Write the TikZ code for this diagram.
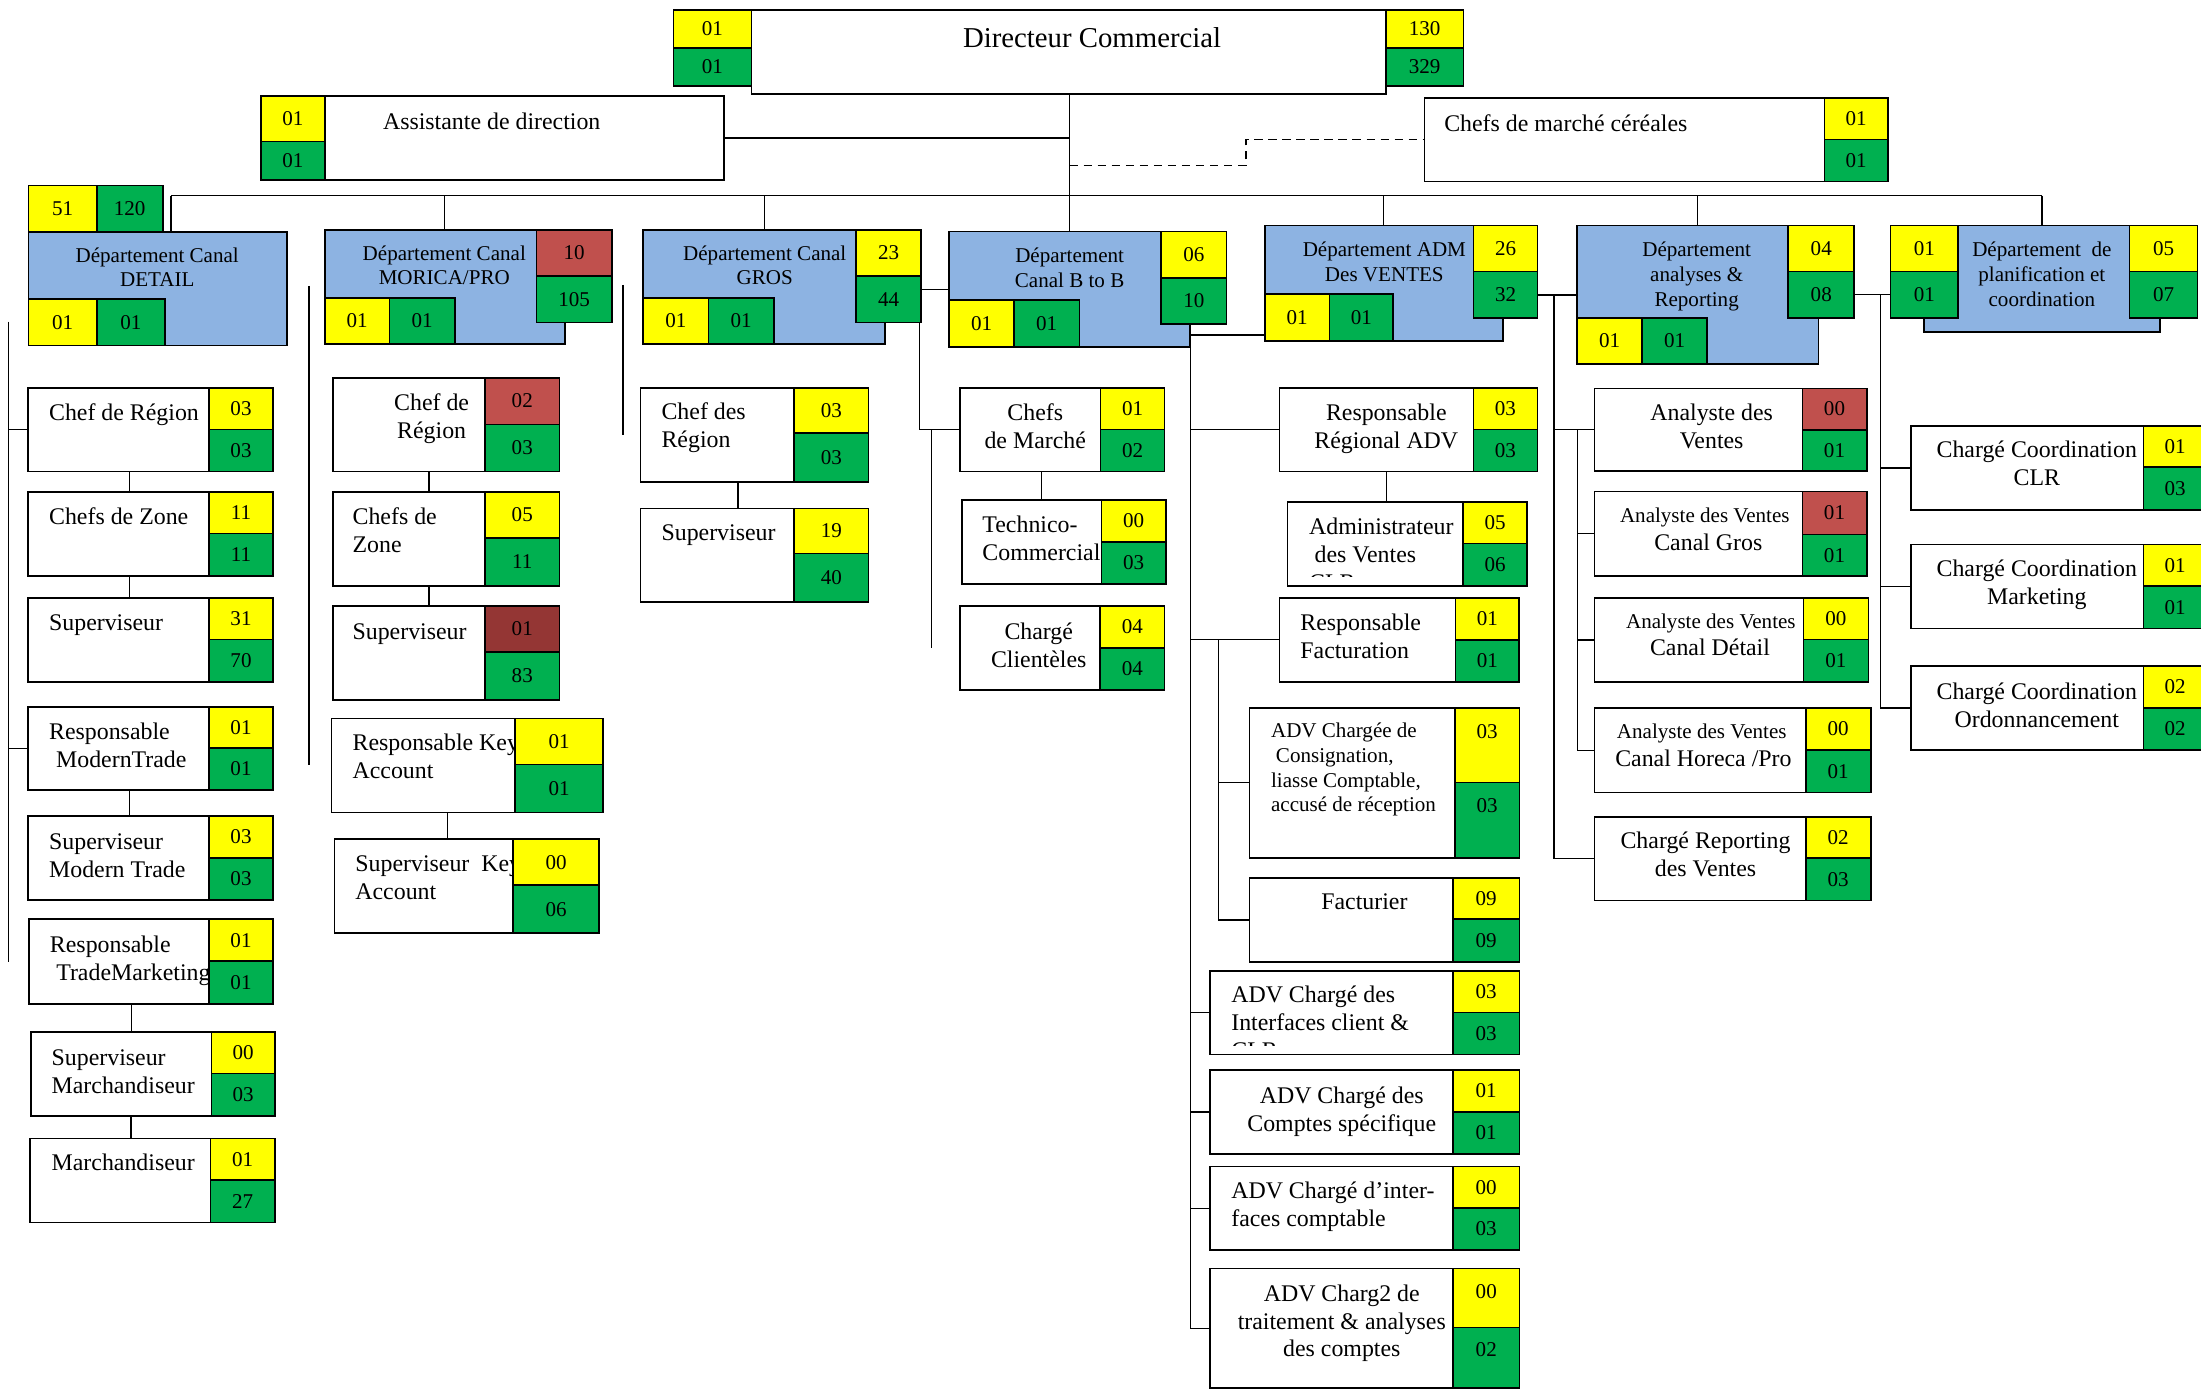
\documentclass[tikz,border=0pt]{standalone}
\usepackage{fontspec}
\setmainfont{Liberation Serif}
\usetikzlibrary{calc}
\pgfdeclarelayer{bg}
\pgfsetlayers{bg,main}
\definecolor{cyel}{HTML}{FFFF00}
\definecolor{cgrn}{HTML}{00B050}
\definecolor{cblue}{HTML}{8DB3E2}
\definecolor{cred}{HTML}{C0504D}
\definecolor{cdark}{HTML}{943634}
\newcommand\fsz[2]{\fontsize{#1}{#2}\selectfont}
% white (or blue) frame given by its corners
\newcommand\boxat[6][]{\node[box,minimum width={(#5-#3)*1pt},minimum height={(#6-#4)*1pt},#1] (#2) at ({(#3+#5)/2},{(#4+#6)/2}) {};}
% coloured count cell given by its corners
\newcommand\numcell[8][]{\node[cellbox,fill=#7,minimum width={(#5-#3)*1pt},minimum height={(#6-#4)*1pt},#1] (#2) at ({(#3+#5)/2},{(#4+#6)/2}) {#8};}
% stacked pair of cells: name, x1, x2, ytop, ymid, ybottom, upper colour, upper text, lower text
\newcommand\cellpair[9]{\numcell{#1y}{#2}{#4}{#3}{#5}{#7}{#8}\numcell{#1g}{#2}{#5}{#3}{#6}{cgrn}{#9}}
% vertical link from one box down to the next, shifted right of the centre
\newcommand\vconn[3]{\draw[link] ($(#1.south)+(#3,0)$) -- ($(#1.south |- #2.north)+(#3,0)$);}
\begin{document}
\begin{tikzpicture}[x=1pt,y=-1pt,
  box/.style={draw=black,line width=1.2pt,fill=white,inner sep=0pt,outer sep=0pt},
  dept/.style={fill=cblue},
  cellbox/.style={draw=black,line width=1.2pt,inner sep=0pt,outer sep=0pt,font=\fsz{15}{18}},
  link/.style={draw=black,line width=0.9pt},
  dlink/.style={link,dash pattern=on 6pt off 4pt},
  t20/.style={font=\fsz{20.5}{24},inner sep=0pt,yshift=10.8pt},
  t17/.style={font=\fsz{17}{20},inner sep=0pt,yshift=8.9pt},
  t17b/.style={font=\fsz{17}{19.4},inner sep=0pt,yshift=8.5pt},
  t15/.style={font=\fsz{15}{17.6},inner sep=0pt,yshift=7.8pt},
  t15c/.style={font=\fsz{15}{17.7},inner sep=0pt,yshift=7.9pt},
  nfont/.style={font=\fsz{15}{18},inner sep=0pt},
  tl/.style={anchor=north west,align=left},
  tc/.style={anchor=north,align=center}]
\begin{pgfonlayer}{bg}
\fill[white] (0,0) rectangle (1568,991);
\end{pgfonlayer}
\useasboundingbox (0,0) rectangle (1568,991);

% ---------------- top level
\boxat{dir}{535.3}{7.1}{987.2}{67.0}
\node[t20,tc] (dir-t) at (778,27.3) {\strut Directeur Commercial};
\cellpair{dira}{479.8}{535.3}{7.1}{34.0}{61.3}{cyel}{01}{01}
\cellpair{dirb}{987.2}{1042.7}{7.1}{34.0}{61.3}{cyel}{130}{329}

\boxat{ast}{231.4}{68.4}{515.8}{128.3}
\node[t17,tc] (ast-t) at (350.3,86.7) {\strut Assistante de direction};
\cellpair{ast}{185.9}{231.4}{68.4}{100.9}{128.3}{cyel}{01}{01}

\boxat{cer}{1014.7}{69.6}{1299.8}{129.4}
\node[t17,tl] (cer-t) at (1028.7,88.4) {\strut Chefs de marché céréales};
\cellpair{cer}{1299.8}{1344.8}{69.6}{99.3}{129.4}{cyel}{01}{01}

% ---------------- departments
\boxat[dept]{det}{20.2}{165.5}{204.3}{246.2}
\numcell{det-y}{20.2}{132.2}{68.9}{165.5}{cyel}{51}
\numcell{det-g}{68.9}{132.2}{115.9}{165.5}{cgrn}{120\hspace{14pt}}
\numcell{det-y2}{20.2}{213.2}{69}{246.2}{cyel}{01}
\numcell{det-g2}{69}{213.2}{117.6}{246.2}{cgrn}{01}
\node[t15,tc] (det-t) at (112,182) {\strut Département Canal\\DETAIL};

\boxat[dept]{mor}{231.4}{163.9}{402.3}{245.1}
\numcell{mor-y}{382.3}{163.9}{435.8}{196.7}{cred}{10}
\numcell{mor-g}{382.3}{196.7}{435.8}{229.7}{cgrn}{105}
\numcell{mor-y2}{231.4}{212.1}{277.4}{245.1}{cyel}{01}
\numcell{mor-g2}{277.4}{212.1}{323.9}{245.1}{cgrn}{01}
\node[t15,tc] (mor-t) at (316.5,180.5) {\strut Département Canal\\MORICA/PRO};

\boxat[dept]{gro}{458.3}{163.9}{630.7}{245.1}
\numcell{gro-y}{609.8}{163.9}{656.2}{196.7}{cyel}{23}
\numcell{gro-g}{609.8}{196.7}{656.2}{229.7}{cgrn}{44}
\numcell{gro-y2}{458.3}{212.1}{504.8}{245.1}{cyel}{01}
\numcell{gro-g2}{504.8}{212.1}{551.3}{245.1}{cgrn}{01}
\node[t15,tc] (gro-t) at (544.8,180.5) {\strut Département Canal\\GROS};

\boxat[dept]{btb}{676.2}{165.0}{847.9}{247.0}
\numcell{btb-y}{827.2}{165.0}{873.7}{197.8}{cyel}{06}
\numcell{btb-g}{827.2}{197.8}{873.7}{231.0}{cgrn}{10}
\numcell{btb-y2}{676.2}{213.7}{722.3}{247.0}{cyel}{01}
\numcell{btb-g2}{722.3}{213.7}{769.0}{247.0}{cgrn}{01}
\node[t15,tc] (btb-t) at (762,182.4) {\strut Département\\Canal B to B};

\boxat[dept]{adm}{901.0}{160.7}{1070.5}{242.7}
\numcell{adm-y}{1049.8}{160.7}{1095.3}{193.5}{cyel}{26}
\numcell{adm-g}{1049.8}{193.5}{1095.3}{226.3}{cgrn}{32}
\numcell{adm-y2}{901}{209.4}{947.1}{242.7}{cyel}{01}
\numcell{adm-g2}{947.1}{209.4}{992.6}{242.7}{cgrn}{01}
\node[t15,tc] (adm-t) at (986.2,178.1) {\strut Département ADM\\Des VENTES};

\boxat[dept]{ana}{1123.4}{160.7}{1295.4}{259.5}
\numcell{ana-y}{1274.0}{160.7}{1320.9}{193.5}{cyel}{04}
\numcell{ana-g}{1274.0}{193.5}{1320.9}{226.3}{cgrn}{08}
\numcell{ana-y2}{1123.4}{226.3}{1169.9}{259.5}{cyel}{01}
\numcell{ana-g2}{1169.9}{226.3}{1216.1}{259.5}{cgrn}{01}
\node[t15,tc] (ana-t) at (1208.7,178.1) {\strut Département\\analyses \&\\Reporting};

\boxat[dept]{pla}{1370.5}{160.7}{1539.0}{236.7}
\numcell{pla-y1}{1346.7}{160.7}{1395.1}{193.5}{cyel}{01}
\numcell{pla-g1}{1346.7}{193.5}{1395.1}{226.3}{cgrn}{01}
\numcell{pla-y}{1517.1}{160.7}{1565.5}{193.5}{cyel}{05}
\numcell{pla-g}{1517.1}{193.5}{1565.5}{226.3}{cgrn}{07}
\node[t15,tc] (pla-t) at (1454.6,178.1) {\strut Département\ \ de\\planification et\\coordination};

% ---------------- Canal DETAIL
\boxat{d1}{20.1}{276.2}{149.1}{336.0}
\node[t17,tl] (d1-t) at (34.8,294.5) {\strut Chef de Région};
\cellpair{d1}{149.1}{194.3}{276.2}{305.9}{336.0}{cyel}{03}{03}
\boxat{d2}{20.1}{350.5}{149.1}{410.4}
\node[t17,tl] (d2-t) at (34.8,368.1) {\strut Chefs de Zone};
\cellpair{d2}{149.1}{194.3}{350.5}{380.0}{410.4}{cyel}{11}{11}
\boxat{d3}{20.1}{425.8}{149.1}{485.7}
\node[t17,tl] (d3-t) at (34.8,444.1) {\strut Superviseur};
\cellpair{d3}{149.1}{194.3}{425.8}{455.5}{485.7}{cyel}{31}{70}
\boxat{d4}{20.1}{503.5}{149.1}{562.8}
\node[t17,tl] (d4-t) at (34.8,521.3) {\strut Responsable\\\hspace*{5pt}ModernTrade};
\cellpair{d4}{149.1}{194.3}{503.5}{532.7}{562.8}{cyel}{01}{01}
\boxat{d5}{20.1}{581.3}{149.1}{641.2}
\node[t17,tl] (d5-t) at (34.8,600.1) {\strut Superviseur\\Modern Trade};
\cellpair{d5}{149.1}{194.3}{581.3}{611.0}{641.2}{cyel}{03}{03}
\boxat{d6}{20.7}{654.9}{149.1}{715.2}
\node[t17,tl] (d6-t) at (35.4,673.2) {\strut Responsable\\\hspace*{4.5pt}TradeMarketing};
\cellpair{d6}{149.1}{194.3}{654.9}{684.6}{715.2}{cyel}{01}{01}
\boxat{d7}{22.1}{735.0}{150.6}{795.1}
\node[t17,tl] (d7-t) at (36.6,753.5) {\strut Superviseur\\Marchandiseur};
\cellpair{d7}{150.6}{195.8}{735.0}{764.7}{795.1}{cyel}{00}{03}
\boxat{d8}{21.3}{811.0}{150.0}{871.0}
\node[t17,tl] (d8-t) at (36.6,828.8) {\strut Marchandiseur};
\cellpair{d8}{150.0}{195.8}{811.0}{840.6}{871.0}{cyel}{01}{27}

% ---------------- Canal MORICA/PRO
\boxat{m1}{237.1}{269.1}{345.5}{336.0}
\node[t17,tc] (m1-t) at (307.5,286.9) {\strut Chef de\\Région};
\cellpair{m1}{345.5}{398.6}{269.1}{302.3}{336.0}{cred}{02}{03}
\boxat{m2}{237.1}{350.5}{345.5}{417.5}
\node[t17,tl] (m2-t) at (251,368.6) {\strut Chefs de\\Zone};
\cellpair{m2}{345.5}{398.6}{350.5}{383.1}{417.5}{cyel}{05}{11}
\boxat{m3}{237.1}{431.8}{345.5}{498.7}
\node[t17,tl] (m3-t) at (251,450) {\strut Superviseur};
\cellpair{m3}{345.5}{398.6}{431.8}{464.3}{498.7}{cdark}{01}{83}
\boxat{m4}{236.2}{511.8}{367.1}{578.8}
\node[t17,tl] (m4-t) at (251,529.6) {\strut Responsable Key\\Account};
\cellpair{m4}{367.1}{429.7}{511.8}{544.6}{578.8}{cyel}{01\hspace{20pt}}{01\hspace{20pt}}
\boxat{m5}{238.3}{597.9}{365.6}{664.9}
\node[t17,tl] (m5-t) at (253,615.7) {\strut Superviseur\ \ Key\\Account};
\cellpair{m5}{365.6}{426.7}{597.9}{630.5}{664.9}{cyel}{00\hspace{18pt}}{06\hspace{18pt}}

% ---------------- Canal GROS
\boxat{g1}{456.3}{276.2}{565.6}{343.6}
\node[t17,tl] (g1-t) at (471.1,293.3) {\strut Chef des\\Région};
\cellpair{g1}{565.6}{618.8}{276.2}{308.7}{343.6}{cyel}{03}{03}
\boxat{g2}{456.3}{362.2}{565.6}{429.1}
\node[t17,tl] (g2-t) at (471.1,380) {\strut Superviseur};
\cellpair{g2}{565.6}{618.8}{362.2}{394.2}{429.1}{cyel}{19}{40}

% ---------------- Canal B to B
\boxat{b1}{683.7}{276.2}{784.1}{336.0}
\node[t17,tc] (b1-t) at (737.5,294) {\strut Chefs\\de Marché};
\cellpair{b1}{784.1}{829.6}{276.2}{305.9}{336.0}{cyel}{01}{02}
\boxat{b2}{685.2}{356.2}{784.7}{416.1}
\node[t17,tl] (b2-t) at (699.7,374) {\strut Technico-\\Commercial};
\cellpair{b2}{784.7}{830.5}{356.2}{385.9}{416.1}{cyel}{00}{03}
\boxat{b3}{683.7}{431.8}{783.8}{491.6}
\node[t17,tc] (b3-t) at (740,450) {\strut Chargé\\Clientèles};
\cellpair{b3}{783.8}{829.6}{431.8}{461.4}{491.6}{cyel}{04}{04}

% ---------------- ADM des ventes
\boxat{a1}{911.4}{276.2}{1049.6}{336.0}
\node[t17,tc] (a1-t) at (987.6,294) {\strut Responsable\\Régional ADV};
\cellpair{a1}{1049.6}{1095.4}{276.2}{305.9}{336.0}{cyel}{03}{03}
\boxat{a2}{917.3}{357.4}{1042.2}{417.5}
\begin{scope}
\clip (917.3,357.4) rectangle (1042.2,411);
\node[t17,tl] (a2-t) at (932.4,375.2) {\strut Administrateur\\\hspace*{4pt}des Ventes\\CLR};
\end{scope}
\cellpair{a2}{1042.2}{1088.0}{357.4}{387.1}{417.5}{cyel}{05}{06}
\boxat{a3}{911.4}{425.8}{1037.0}{485.7}
\node[t17,tl] (a3-t) at (926.2,444.1) {\strut Responsable\\Facturation};
\cellpair{a3}{1037.0}{1082.1}{425.8}{456.0}{485.7}{cyel}{01}{01}
\boxat{a4}{890.1}{504.4}{1036.6}{611.0}
\node[t15c,tl] (a4-t) at (905.3,520.6) {\strut ADV Chargée de\\\hspace*{3.5pt}Consignation,\\liasse Comptable,\\accusé de réception};
\cellpair{a4}{1036.6}{1082.5}{504.4}{557.4}{611.0}{cyel}{}{}
\node[nfont] (a4-ny) at (1059.5,521.5) {03};
\node[nfont] (a4-ng) at (1059.5,573.9) {03};
\boxat{a5}{890.1}{625.5}{1035.0}{685.3}
\node[t17,tc] (a5-t) at (972,642.7) {\strut Facturier};
\cellpair{a5}{1035.0}{1082.5}{625.5}{654.9}{685.3}{cyel}{09}{09}
\boxat{a6}{862.0}{691.8}{1035.0}{751.2}
\begin{scope}
\clip (862,691.8) rectangle (1035,744.5);
\node[t17,tl] (a6-t) at (877,708.9) {\strut ADV Chargé des\\Interfaces client \&\\CLR};
\end{scope}
\cellpair{a6}{1035.0}{1082.5}{691.8}{721.2}{751.2}{cyel}{03}{03}
\boxat{a7}{862.0}{762.2}{1035.0}{822.0}
\node[t17,tc] (a7-t) at (955.9,780.6) {\strut ADV Chargé des\\Comptes spécifique};
\cellpair{a7}{1035.0}{1082.5}{762.2}{792.2}{822.0}{cyel}{01}{01}
\boxat{a8}{862.0}{831.0}{1035.0}{890.4}
\node[t17,tl] (a8-t) at (877,848.7) {\strut ADV Chargé d’inter-\\faces comptable};
\cellpair{a8}{1035.0}{1082.5}{831.0}{860.7}{890.4}{cyel}{00}{03}
\boxat{a9}{862.0}{903.7}{1035.0}{988.9}
\node[t17b,tc] (a9-t) at (955.9,922.1) {\strut ADV Charg2 de\\traitement \& analyses\\des comptes};
\cellpair{a9}{1035.0}{1082.5}{903.7}{945.6}{988.9}{cyel}{}{}
\node[nfont] (a9-ny) at (1058.8,920.4) {00};
\node[nfont] (a9-ng) at (1058.8,961.8) {02};

% ---------------- analyses & reporting
\boxat{n1}{1135.8}{276.7}{1284.0}{335.7}
\node[t17,tc] (n1-t) at (1219.4,294.1) {\strut Analyste des\\Ventes};
\cellpair{n1}{1284.0}{1329.8}{276.7}{306.1}{335.7}{cred}{00}{01}
\boxat{n2}{1135.8}{350.2}{1284.0}{410.4}
\node[t15,tc] (n2-t) at (1214.5,367.5) {\strut Analyste des Ventes};
\node[t17,tc] (n2-u) at (1217,386.8) {\strut Canal Gros};
\cellpair{n2}{1284.0}{1329.8}{350.2}{380.7}{410.4}{cred}{01}{01}
\boxat{n3}{1135.8}{426.0}{1284.7}{485.7}
\node[t15,tc] (n3-t) at (1218.8,442.9) {\strut Analyste des Ventes};
\node[t17,tc] (n3-u) at (1218.2,461.4) {\strut Canal Détail};
\cellpair{n3}{1284.7}{1331.0}{426.0}{455.6}{485.7}{cyel}{00}{01}
\boxat{n4}{1135.8}{504.3}{1286.4}{564.5}
\node[t15,tc] (n4-t) at (1212.3,521.1) {\strut Analyste des Ventes};
\node[t17,tc] (n4-u) at (1213.5,540.4) {\strut Canal Horeca /Pro};
\cellpair{n4}{1286.4}{1332.7}{504.3}{534.4}{564.5}{cyel}{00}{01}
\boxat{n5}{1135.8}{581.8}{1286.4}{641.5}
\node[t17,tc] (n5-t) at (1215,599.4) {\strut Chargé Reporting\\des Ventes};
\cellpair{n5}{1286.4}{1332.7}{581.8}{611.4}{641.5}{cyel}{02}{03}

% ---------------- planification et coordination
\boxat{p1}{1361.2}{303.5}{1527.0}{363.4}
\node[t17,tc] (p1-t) at (1451,320.6) {\strut Chargé Coordination\\CLR};
\cellpair{p1}{1527.0}{1572.0}{303.5}{332.9}{363.4}{cyel}{01}{03}
\boxat{p2}{1361.2}{387.8}{1527.0}{447.7}
\node[t17,tc] (p2-t) at (1451,405.6) {\strut Chargé Coordination\\Marketing};
\cellpair{p2}{1527.0}{1572.0}{387.8}{417.5}{447.7}{cyel}{01}{01}
\boxat{p3}{1361.2}{474.5}{1527.0}{534.4}
\node[t17,tc] (p3-t) at (1451,492.8) {\strut Chargé Coordination\\Ordonnancement};
\cellpair{p3}{1527.0}{1572.0}{474.5}{504.2}{534.4}{cyel}{02}{02}

% ---------------- connectors
\begin{pgfonlayer}{bg}
\draw[link] (dir.south -| btb.north) -- (btb.north);
\coordinate (busL) at (121.8,139.4);
\draw[link] (busL) -- (busL -| pla.north);
\draw[link] (busL) -- (busL |- det.north);
\foreach \nm in {mor,gro,adm,ana,pla} \draw[link] (\nm.north |- busL) -- (\nm.north);
\draw[link] (ast.east) -- (ast.east -| btb.north);
\coordinate (dsh) at (762,118);
\draw[dlink] (dsh) -- ++(125.6,0) |- (cer.west);

% Canal DETAIL
\coordinate (dA) at (5.9,229.2);
\coordinate (dB) at (5.9,685.1);
\draw[link] (dA) -- (dB);
\draw[link] (dA |- d1.west) -- (d1.west);
\draw[link] (dA |- d4.west) -- (d4.west);
\vconn{d1}{d2}{7.5}
\vconn{d2}{d3}{7.5}
\vconn{d4}{d5}{7.5}
\vconn{d6}{d7}{9}
\vconn{d7}{d8}{7}

% Canal MORICA/PRO and GROS
\coordinate (mA) at (220.2,203.7);
\coordinate (mB) at (220.2,545);
\draw[link] (mA) -- (mB);
\vconn{m1}{m2}{14.3}
\vconn{m2}{m3}{14.3}
\vconn{m4}{m5}{17.2}
\coordinate (gA) at (443.8,203);
\coordinate (gB) at (443.8,310);
\draw[link] (gA) -- (gB);
\vconn{g1}{g2}{14.75}

% Canal B to B
\draw[link] (btb.west) -- (btb.west -| gro-g.east);
\coordinate (bJ) at (654.8,206);
\draw[link] (bJ) |- (b1.west);
\coordinate (bA) at (663.6,305.9);
\coordinate (bB) at (663.6,461.9);
\draw[link] (bA) -- (bB);
\vconn{b1}{b2}{8}

% ADM des ventes
\coordinate (tA) at (848,238.6);
\draw[link] (tA) -- (tA -| adm.west);
\foreach \nm in {a1,a3,a6,a7,a8,a9} \draw[link] (tA) |- (\nm.west);
\coordinate (tB) at (868,455.75);
\foreach \nm in {a4,a5} \draw[link] (tB) |- (\nm.west);
\vconn{a1}{a2}{7}

% analyses & reporting
\draw[link] (ana.west) -- (ana.west -| adm-g.east);
\coordinate (tC) at (1107,210.1);
\foreach \nm in {n1,n5} \draw[link] (tC) |- (\nm.west);
\coordinate (tD) at (1123.9,306.2);
\foreach \nm in {n2,n3,n4} \draw[link] (tD) |- (\nm.west);

% planification et coordination
\draw[link] (pla-g1.west) -- (pla-g1.west -| ana-g.east);
\coordinate (tE) at (1339.5,209.9);
\foreach \nm in {p1,p2,p3} \draw[link] (tE) |- (\nm.west);
\end{pgfonlayer}
\end{tikzpicture}
\end{document}
